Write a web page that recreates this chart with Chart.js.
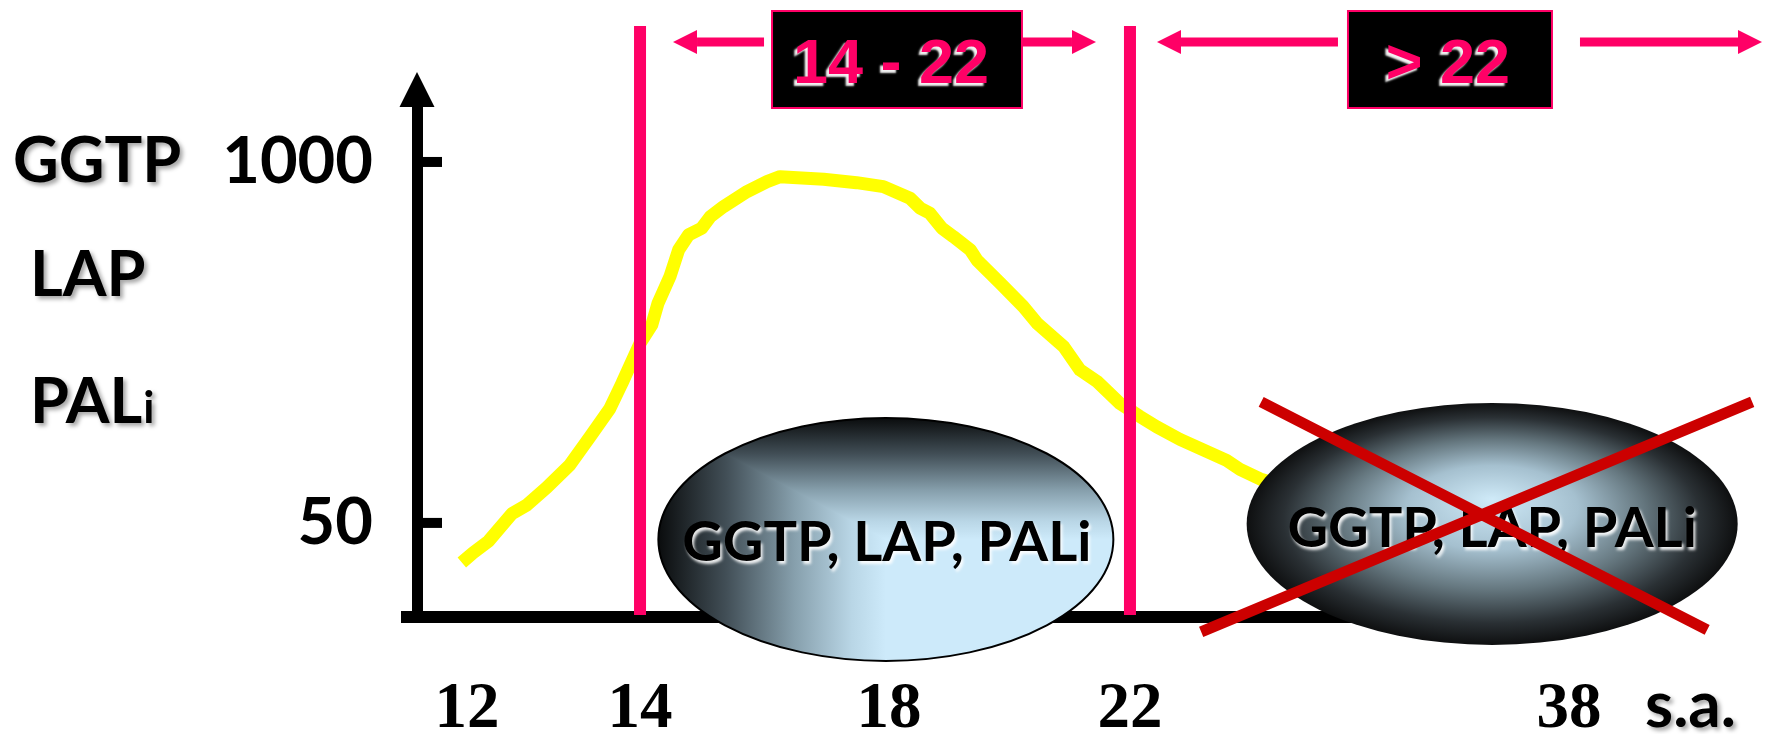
<!DOCTYPE html>
<html>
<head>
<meta charset="utf-8">
<style>
  html, body { margin: 0; padding: 0; background: #fff; }
  #wrap { width: 1772px; height: 734px; }
</style>
<script src="https://cdn.jsdelivr.net/npm/chart.js@4.4.1/dist/chart.umd.min.js"></script>
</head>
<body>
<div id="wrap"><canvas id="chart" width="1772" height="734"></canvas></div>
<script>
// weeks of amenorrhoea (s.a.) and enzyme level
const weeks = [11.94, 12.07, 12.25, 12.52, 12.69, 12.92, 13.19, 13.42, 13.65, 13.79,
               14.0, 14.19, 14.29, 14.48, 14.62, 14.78, 14.99, 15.13, 15.34, 15.72,
               16.04, 16.25, 16.95, 17.48, 17.91, 18.35, 18.52, 18.68, 18.88, 19.07,
               19.35, 19.46, 19.85, 20.23, 20.46, 20.9, 21.17, 21.45, 21.83, 22.36,
               22.97, 23.82, 25.52, 26.01, 26.74, 28.0];
const levels = [36, 39, 43, 54, 58, 67, 81, 102, 129, 159,
                222, 259, 310, 386, 482, 546, 577, 635, 690, 782,
                849, 885, 866, 842, 815, 740, 681, 653, 577, 538,
                482, 443, 365, 301, 262, 216, 178, 162, 135, 121,
                111, 100, 84, 78, 72, 66];

const weekTicks = [12, 14, 18, 22, 38];
const levelTicks = [50, 1000];
const phaseBounds = [14, 22];
const phaseLabels = ['14 - 22', '> 22'];
const markerLabels = ['GGTP', 'LAP', 'PALi'];
const bubbleText = 'GGTP, LAP, PALi';
const unitLabel = 's.a.';

// the week axis of the slide is not to scale: piecewise mapping week -> share of axis width
const WEEK_KNOTS = [[11.42, 0], [12, 0.0434], [14, 0.1936], [18, 0.4097], [22, 0.6189], [38, 1]];

class WeekScale extends Chart.LinearScale {
  buildTicks() {
    return weekTicks.map(v => ({ value: v }));
  }
  getPixelForValue(value) {
    if (value === null || value === undefined) return NaN;
    const k = WEEK_KNOTS;
    let i = 1;
    while (i < k.length - 1 && value > k[i][0]) i++;
    const [w0, f0] = k[i - 1], [w1, f1] = k[i];
    return this.getPixelForDecimal(f0 + (value - w0) / (w1 - w0) * (f1 - f0));
  }
  getValueForPixel(pixel) {
    const f = this.getDecimalForPixel(pixel);
    const k = WEEK_KNOTS;
    let i = 1;
    while (i < k.length - 1 && f > k[i][1]) i++;
    const [w0, f0] = k[i - 1], [w1, f1] = k[i];
    return w0 + (f - f0) / (f1 - f0) * (w1 - w0);
  }
}
WeekScale.id = 'week';
WeekScale.defaults = {};
Chart.register(WeekScale);

const PINK = '#FF0066';
const CALIBRI = 'Lato, "Open Sans", sans-serif';

function arrow(ctx, from, to, yy) {
  const dir = Math.sign(to - from);
  const head = 24;
  ctx.fillRect(Math.min(from, to - dir * head), yy - 4.5, Math.abs(to - dir * head - from), 9);
  ctx.beginPath();
  ctx.moveTo(to, yy);
  ctx.lineTo(to - dir * head, yy - 12);
  ctx.lineTo(to - dir * head, yy + 12);
  ctx.closePath();
  ctx.fill();
}

function phaseBox(ctx, left, right, label, textX) {
  ctx.fillStyle = '#000';
  ctx.fillRect(left, 11, right - left, 97);
  ctx.strokeStyle = PINK;
  ctx.lineWidth = 2;
  ctx.strokeRect(left, 11, right - left, 97);
  ctx.save();
  ctx.font = 'bold 63px "Liberation Sans Narrow", "Liberation Sans", Arial, sans-serif';
  ctx.textAlign = 'center';
  ctx.textBaseline = 'alphabetic';
  ctx.shadowColor = 'rgba(255,255,255,0.95)';
  ctx.shadowOffsetX = -3;
  ctx.shadowOffsetY = 3;
  ctx.shadowBlur = 2;
  ctx.fillStyle = PINK;
  ctx.fillText(label, textX, 83);
  ctx.restore();
}

function drawBubbleText(ctx, cx, baseline) {
  ctx.save();
  ctx.font = 'bold 56px ' + CALIBRI;
  ctx.textAlign = 'center';
  ctx.textBaseline = 'alphabetic';
  ctx.shadowColor = 'rgba(255,255,255,0.9)';
  ctx.shadowOffsetX = 2;
  ctx.shadowOffsetY = 3;
  ctx.shadowBlur = 3;
  ctx.fillStyle = '#000';
  ctx.fillText(bubbleText, cx, baseline);
  ctx.restore();
}

const decor = {
  id: 'decor',
  afterDatasetsDraw(chart) {
    const { ctx, chartArea: a, scales: { x, y } } = chart;
    const x14 = x.getPixelForValue(phaseBounds[0]);
    const x22 = x.getPixelForValue(phaseBounds[1]);
    ctx.save();

    // axis extras: stub left of the y axis, arrow head, short ticks
    ctx.fillStyle = '#000';
    ctx.fillRect(a.left - 16, a.bottom - 6, 16, 12);
    ctx.beginPath();
    ctx.moveTo(a.left, a.top - 35);
    ctx.lineTo(a.left - 17.5, a.top);
    ctx.lineTo(a.left + 17.5, a.top);
    ctx.closePath();
    ctx.fill();
    levelTicks.forEach(v => {
      const py = y.getPixelForValue(v);
      ctx.fillRect(a.left, py - 5, 25, 10);
    });

    // phase limits
    ctx.fillStyle = PINK;
    [x14, x22].forEach(px => ctx.fillRect(px - 6, 26, 12, a.bottom - 28));

    // bubble 1 : 14-22 weeks
    const c1x = x.getPixelForValue(17.95), c1y = y.getPixelForValue(43.6);
    const r1x = 227.5, r1y = 121.5;
    const stops = [[0, '#0a0c0d'], [0.3, '#424f57'], [0.6, '#87a0ad'], [0.85, '#b9d6e6'], [1, '#cdeafa']];
    ctx.save();
    ctx.beginPath();
    ctx.ellipse(c1x, c1y, r1x, r1y, 0, 0, Math.PI * 2);
    ctx.clip();
    const gh = ctx.createLinearGradient(c1x - r1x, 0, c1x, 0);
    stops.forEach(s => gh.addColorStop(s[0], s[1]));
    ctx.fillStyle = gh;
    ctx.fillRect(c1x - r1x, c1y - r1y, 2 * r1x, 2 * r1y);
    ctx.beginPath();
    ctx.moveTo(c1x - r1x, c1y - r1y);
    ctx.lineTo(c1x + r1x, c1y - r1y);
    ctx.lineTo(c1x + r1x, c1y + r1y);
    ctx.closePath();
    ctx.clip();
    const gv = ctx.createLinearGradient(0, c1y - r1y, 0, c1y);
    stops.forEach(s => gv.addColorStop(s[0], s[1]));
    ctx.fillStyle = gv;
    ctx.fillRect(c1x - r1x, c1y - r1y, 2 * r1x, 2 * r1y);
    ctx.restore();
    ctx.beginPath();
    ctx.ellipse(c1x, c1y, r1x, r1y, 0, 0, Math.PI * 2);
    ctx.strokeStyle = '#000';
    ctx.lineWidth = 2;
    ctx.stroke();
    drawBubbleText(ctx, c1x + 1, c1y + 22);

    // bubble 2 : after 22 weeks
    const c2x = x.getPixelForValue(35.2), c2y = y.getPixelForValue(49.6);
    const r2x = 245.5, r2y = 121;
    ctx.save();
    ctx.translate(c2x, c2y);
    ctx.scale(1, r2y / r2x);
    const gr = ctx.createRadialGradient(0, -50, 0, 0, 0, r2x);
    gr.addColorStop(0, '#cfeaf8');
    gr.addColorStop(0.35, '#a5c0cf');
    gr.addColorStop(0.62, '#65777f');
    gr.addColorStop(0.85, '#2a3034');
    gr.addColorStop(1, '#0e0f10');
    ctx.beginPath();
    ctx.arc(0, 0, r2x, 0, Math.PI * 2);
    ctx.fillStyle = gr;
    ctx.fill();
    ctx.restore();
    drawBubbleText(ctx, c2x, c2y + 23);

    // red cross
    ctx.strokeStyle = '#CC0000';
    ctx.lineWidth = 11;
    ctx.lineCap = 'butt';
    ctx.beginPath();
    ctx.moveTo(c2x - 231, c2y - 122);
    ctx.lineTo(c2x + 215, c2y + 106);
    ctx.moveTo(c2x - 291, c2y + 108);
    ctx.lineTo(c2x + 260, c2y - 122);
    ctx.stroke();

    // phase arrows and boxes
    ctx.fillStyle = PINK;
    arrow(ctx, x14 + 124, x14 + 33, 42);
    arrow(ctx, x22 - 108, x22 - 34, 42);
    arrow(ctx, x22 + 208, x22 + 27, 42);
    arrow(ctx, x22 + 450, chart.width - 10, 42);
    phaseBox(ctx, x14 + 132, x22 - 108, phaseLabels[0], x14 + 251);
    phaseBox(ctx, x22 + 218, x22 + 422, phaseLabels[1], x22 + 318);

    // analyte names at the left, unit at the right
    ctx.fillStyle = '#000';
    ctx.shadowColor = 'rgba(0,0,0,0.35)';
    ctx.shadowOffsetX = 3;
    ctx.shadowOffsetY = 3;
    ctx.shadowBlur = 4;
    ctx.textAlign = 'left';
    ctx.textBaseline = 'alphabetic';
    ctx.font = 'bold 63px ' + CALIBRI;
    ctx.fillText(markerLabels[0], 13, 182);
    ctx.fillText(markerLabels[1], 30, 296);
    const pal = markerLabels[2].slice(0, -1);
    ctx.fillText(pal, 30, 423);
    const palW = ctx.measureText(pal).width;
    ctx.font = 'bold 44px ' + CALIBRI;
    ctx.fillText(markerLabels[2].slice(-1), 30 + palW + 1, 423);
    ctx.font = 'bold 64px ' + CALIBRI;
    ctx.fillText(unitLabel, 1645, 727);
    ctx.restore();
  }
};

new Chart(document.getElementById('chart'), {
  type: 'line',
  data: {
    datasets: [{
      label: 'GGTP / LAP / PALi',
      data: weeks.map((w, i) => ({ x: w, y: levels[i] })),
      borderColor: '#FFFF00',
      borderWidth: 13,
      borderJoinStyle: 'round',
      pointRadius: 0,
      tension: 0,
      fill: false
    }]
  },
  options: {
    responsive: false,
    animation: false,
    events: [],
    layout: { padding: { top: 107, right: 203, bottom: 0, left: 0 } },
    plugins: { legend: { display: false }, tooltip: { enabled: false } },
    scales: {
      x: {
        type: 'week',
        position: 'bottom',
        grid: { display: false, drawTicks: false },
        border: { display: true, color: '#000', width: 12 },
        ticks: {
          autoSkip: false,
          maxRotation: 0,
          padding: 54,
          color: '#000',
          font: { family: '"Liberation Serif", serif', size: 65, weight: 'bold' },
          callback: v => String(v)
        },
        afterFit: s => { s.height = 117; }
      },
      y: {
        type: 'logarithmic',
        min: 22.9,
        max: 1578,
        bounds: 'data',
        grid: { display: false, drawTicks: false },
        border: { display: true, color: '#000', width: 11 },
        ticks: {
          padding: 44,
          color: '#000',
          font: { family: CALIBRI, size: 65, weight: 'bold' },
          callback: v => String(v)
        },
        afterBuildTicks: s => { s.ticks = levelTicks.map(v => ({ value: v })); },
        afterFit: s => { s.width = 417; }
      }
    }
  },
  plugins: [decor]
});
</script>
</body>
</html>
